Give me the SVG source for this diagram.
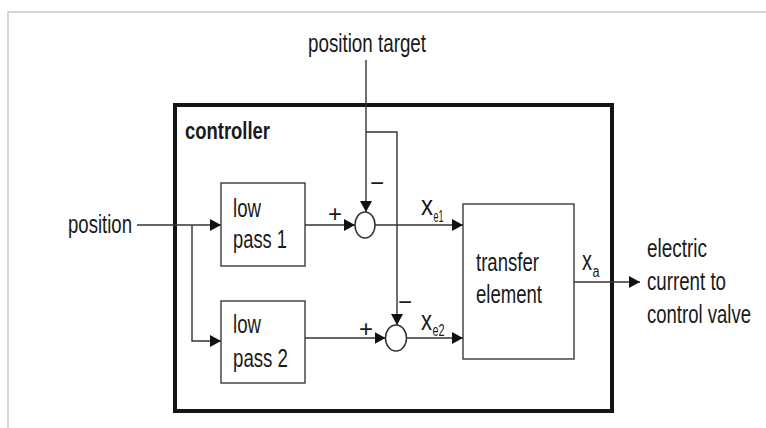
<svg xmlns="http://www.w3.org/2000/svg" width="766" height="428" viewBox="0 0 766 428">
<defs>
<marker id="arr" markerUnits="userSpaceOnUse" markerWidth="11" markerHeight="12" refX="11" refY="6" orient="auto">
<path d="M0,0 L11,6 L0,12 z" fill="#111"/>
</marker>
</defs>
<style>
text{font-family:"Liberation Sans",Arial,sans-serif;fill:#1a1a1a;}
.t{font-size:26px;}
.x{font-size:28px;}
.s{font-size:16px;}
.pm{font-size:24px;}
.b{font-size:23px;font-weight:bold;}
.box{fill:#fff;stroke:#3a3a3a;stroke-width:1.4;}
.ln{fill:none;stroke:#333;stroke-width:1.4;}
.sum{fill:#fff;stroke:#333;stroke-width:1.5;}
</style>
<rect width="766" height="428" fill="#fff"/>
<path d="M8,428 V12 H766" fill="none" stroke="#c8c8c8" stroke-width="1.5"/>

<g id="controller">
<rect x="175" y="105" width="437" height="306" fill="none" stroke="#141414" stroke-width="4"/>
<text class="b" x="185" y="139" textLength="85" lengthAdjust="spacingAndGlyphs">controller</text>
</g>

<g id="connectors">
<path class="ln" d="M137,225 H221" marker-end="url(#arr)"/>
<path class="ln" d="M192,225 V341 H221" marker-end="url(#arr)"/>
<path class="ln" d="M305,225 H355" marker-end="url(#arr)"/>
<path class="ln" d="M305,338 H385.5" marker-end="url(#arr)"/>
<path class="ln" d="M366,60 V212" marker-end="url(#arr)"/>
<path class="ln" d="M366,132 H397 V325" marker-end="url(#arr)"/>
<path class="ln" d="M375,225 H463" marker-end="url(#arr)"/>
<path class="ln" d="M406.5,338 H463" marker-end="url(#arr)"/>
<path class="ln" d="M574,282 H640" marker-end="url(#arr)"/>
</g>

<g id="position-target">
<text class="t" x="308" y="52" textLength="118" lengthAdjust="spacingAndGlyphs">position target</text>
</g>
<g id="position">
<text class="t" x="68" y="233" textLength="64" lengthAdjust="spacingAndGlyphs">position</text>
</g>

<g id="lowpass1">
<rect class="box" x="221" y="183" width="84" height="83"/>
<text class="t" x="233" y="217" textLength="28" lengthAdjust="spacingAndGlyphs">low</text>
<text class="t" x="233" y="248" textLength="54" lengthAdjust="spacingAndGlyphs">pass 1</text>
</g>
<g id="lowpass2">
<rect class="box" x="221" y="301" width="84" height="82"/>
<text class="t" x="233" y="333" textLength="28" lengthAdjust="spacingAndGlyphs">low</text>
<text class="t" x="233" y="367" textLength="55" lengthAdjust="spacingAndGlyphs">pass 2</text>
</g>

<g id="sum1">
<ellipse class="sum" cx="365" cy="225" rx="10" ry="13"/>
<text class="pm" x="335" y="222" text-anchor="middle">+</text>
<text class="pm" x="377" y="191" text-anchor="middle">−</text>
</g>
<g id="sum2">
<ellipse class="sum" cx="396" cy="338" rx="10.5" ry="13"/>
<text class="pm" x="366" y="337" text-anchor="middle">+</text>
<text class="pm" x="405" y="310" text-anchor="middle">−</text>
</g>

<g id="labels">
<text class="x" x="421" y="215" textLength="12" lengthAdjust="spacingAndGlyphs">x</text>
<text class="s" x="433.5" y="222" textLength="10" lengthAdjust="spacingAndGlyphs">e1</text>
<text class="x" x="421" y="330" textLength="11" lengthAdjust="spacingAndGlyphs">x</text>
<text class="s" x="432.5" y="336" textLength="12" lengthAdjust="spacingAndGlyphs">e2</text>
<text class="x" x="582" y="270" textLength="10" lengthAdjust="spacingAndGlyphs">x</text>
<text class="s" x="592.5" y="277" textLength="7" lengthAdjust="spacingAndGlyphs">a</text>
</g>

<g id="transfer">
<rect class="box" x="463" y="204" width="111" height="155"/>
<text class="t" x="476" y="271" textLength="63" lengthAdjust="spacingAndGlyphs">transfer</text>
<text class="t" x="476" y="303" textLength="66" lengthAdjust="spacingAndGlyphs">element</text>
</g>

<g id="output">
<text class="t" x="647" y="257" textLength="60" lengthAdjust="spacingAndGlyphs">electric</text>
<text class="t" x="647" y="290" textLength="79" lengthAdjust="spacingAndGlyphs">current to</text>
<text class="t" x="647" y="323" textLength="104" lengthAdjust="spacingAndGlyphs">control valve</text>
</g>
</svg>
